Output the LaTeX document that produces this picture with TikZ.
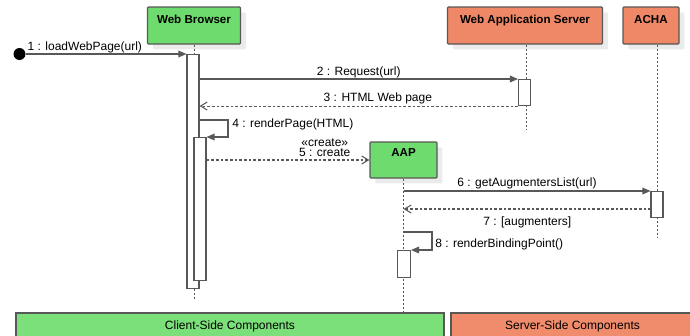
\documentclass[tikz,border=0pt]{standalone}
\usepackage{fontspec}
\setmainfont{Liberation Sans}
\usetikzlibrary{positioning,arrows.meta,shadows}

\newcommand{\seqpx}{0.75pt}

\definecolor{clientgreen}{HTML}{6DDB6D}
\definecolor{servercoral}{HTML}{EE8866}
\definecolor{groupgreen}{HTML}{7BE07A}
\definecolor{groupcoral}{HTML}{F08B6B}
\definecolor{seqline}{HTML}{585858}

\tikzset{
  headbox/.style={draw=seqline, line width=0.9pt, rounded corners=0.8pt, inner sep=0pt,
    minimum height=37*\seqpx,
    drop shadow={shadow xshift=4pt, shadow yshift=-4pt, fill=black!8, opacity=1}},
  headtext/.style={font=\fontsize{8.7}{10}\selectfont\bfseries, inner sep=0pt, anchor=base, yshift=-17*\seqpx},
  actbar/.style={draw=seqline, line width=0.8pt, fill=white, anchor=north, inner sep=0pt, minimum width=12*\seqpx},
  lifeline/.style={draw=seqline, line width=0.7pt, dash pattern=on 1.5pt off 1.5pt},
  call/.style={draw=seqline, line width=0.9pt, -{Triangle[length=6pt,width=5pt]}},
  reply/.style={draw=seqline, line width=0.8pt, dash pattern=on 2pt off 1.5pt, -{Straight Barb[length=5pt,width=6pt]}},
  msglabel/.style={font=\fontsize{9}{11}\selectfont, inner sep=0pt},
  groupbar/.style={draw=seqline, line width=0.9pt, inner sep=0pt, minimum height=27*\seqpx,
    font=\fontsize{9}{11}\selectfont}
}

\begin{document}
\begin{tikzpicture}[x=\seqpx, y=-\seqpx]
  \useasboundingbox (0,0) rectangle (690,336);

  % participants
  \node[headbox, fill=clientgreen, minimum width=93*\seqpx, label={[headtext]north:Web Browser}] (browser) at (194,25.5) {};
  \node[headbox, fill=servercoral, minimum width=155*\seqpx, label={[headtext]north:Web Application Server}] (appserver) at (525,25.5) {};
  \node[headbox, fill=servercoral, minimum width=56*\seqpx, label={[headtext]north:ACHA}] (acha) at (651,25.5) {};
  \node[headbox, fill=clientgreen, minimum width=67*\seqpx, minimum height=36*\seqpx, label={[headtext, yshift=2*\seqpx]north:AAP}] (aap) at (403.5,160) {};

  % groups
  \node[groupbar, fill=groupgreen, minimum width=428*\seqpx] (client) at (230,326.5) {Client-Side Components};
  \node[groupbar, fill=groupcoral, minimum width=243*\seqpx] (server) at (572.5,326.5) {Server-Side Components};

  % lifelines
  \coordinate (browserEnd) at (194,300);
  \coordinate (appserverEnd) at (526,130);
  \coordinate (achaEnd) at (657,238);
  \draw[lifeline] (browser.south) -- (browserEnd);
  \draw[lifeline] (appserverEnd |- appserver.south) -- (appserverEnd);
  \draw[lifeline] (achaEnd |- acha.south) -- (achaEnd);
  \draw[lifeline] (aap.south) -- (aap.south |- client.north);

  % activations
  \node[actbar, minimum height=234*\seqpx] (browserAct) at (193,54) {};
  \node[actbar, minimum height=143*\seqpx] (browserActB) at (200,137) {};
  \node[actbar, minimum height=26*\seqpx] (serverAct) at (524.5,79) {};
  \node[actbar, minimum height=26*\seqpx] (achaAct) at (657,191) {};
  \node[actbar, minimum width=13*\seqpx, minimum height=27*\seqpx] (aapAct) at (404,250) {};

  % messages
  \node[circle, fill=black, inner sep=0pt, minimum size=12*\seqpx] (initial) at (19.5,54) {};
  \draw[call] (initial) -- (browserAct.north west)
    node[msglabel, pos=0, anchor=base west, xshift=1pt, yshift=3pt] {1 : loadWebPage(url)};
  \draw[call] (browserAct.east |- serverAct.north) -- (serverAct.north west)
    node[msglabel, midway, anchor=base, yshift=3pt] {2 : Request(url)};
  \draw[reply] (serverAct.south west) -- (browserAct.east |- serverAct.south)
    node[msglabel, pos=0.44, anchor=base, yshift=3.5pt] {3 : HTML Web page};

  \coordinate (renderTurn) at (228,120);
  \draw[call] (browserAct.east |- renderTurn) -- (renderTurn) |- (browserActB.north east);
  \node[msglabel, anchor=base west] (renderLbl) at (232,127) {4 : renderPage(HTML)};

  \draw[reply] (browserActB.east |- aap.west) -- (aap.west)
    node[msglabel, pos=0.726, anchor=south, yshift=2pt, align=center, font=\fontsize{9}{8}\selectfont] {«create»\\5 : create};

  \draw[call] (aap.south |- achaAct.north) -- (achaAct.north west)
    node[msglabel, midway, anchor=base, yshift=3.5pt] {6 : getAugmentersList(url)};
  \coordinate (augReply) at (651,209);
  \draw[reply] (augReply) -- (aap.south |- augReply)
    node[msglabel, midway, anchor=base, yshift=-12pt] {7 : [augmenters]};

  \coordinate (bindTurn) at (432,232);
  \draw[call] (aap.south |- bindTurn) -- (bindTurn) |- (aapAct.north east);
  \node[msglabel, anchor=base west] (bindLbl) at (435,247) {8 : renderBindingPoint()};
\end{tikzpicture}
\end{document}
